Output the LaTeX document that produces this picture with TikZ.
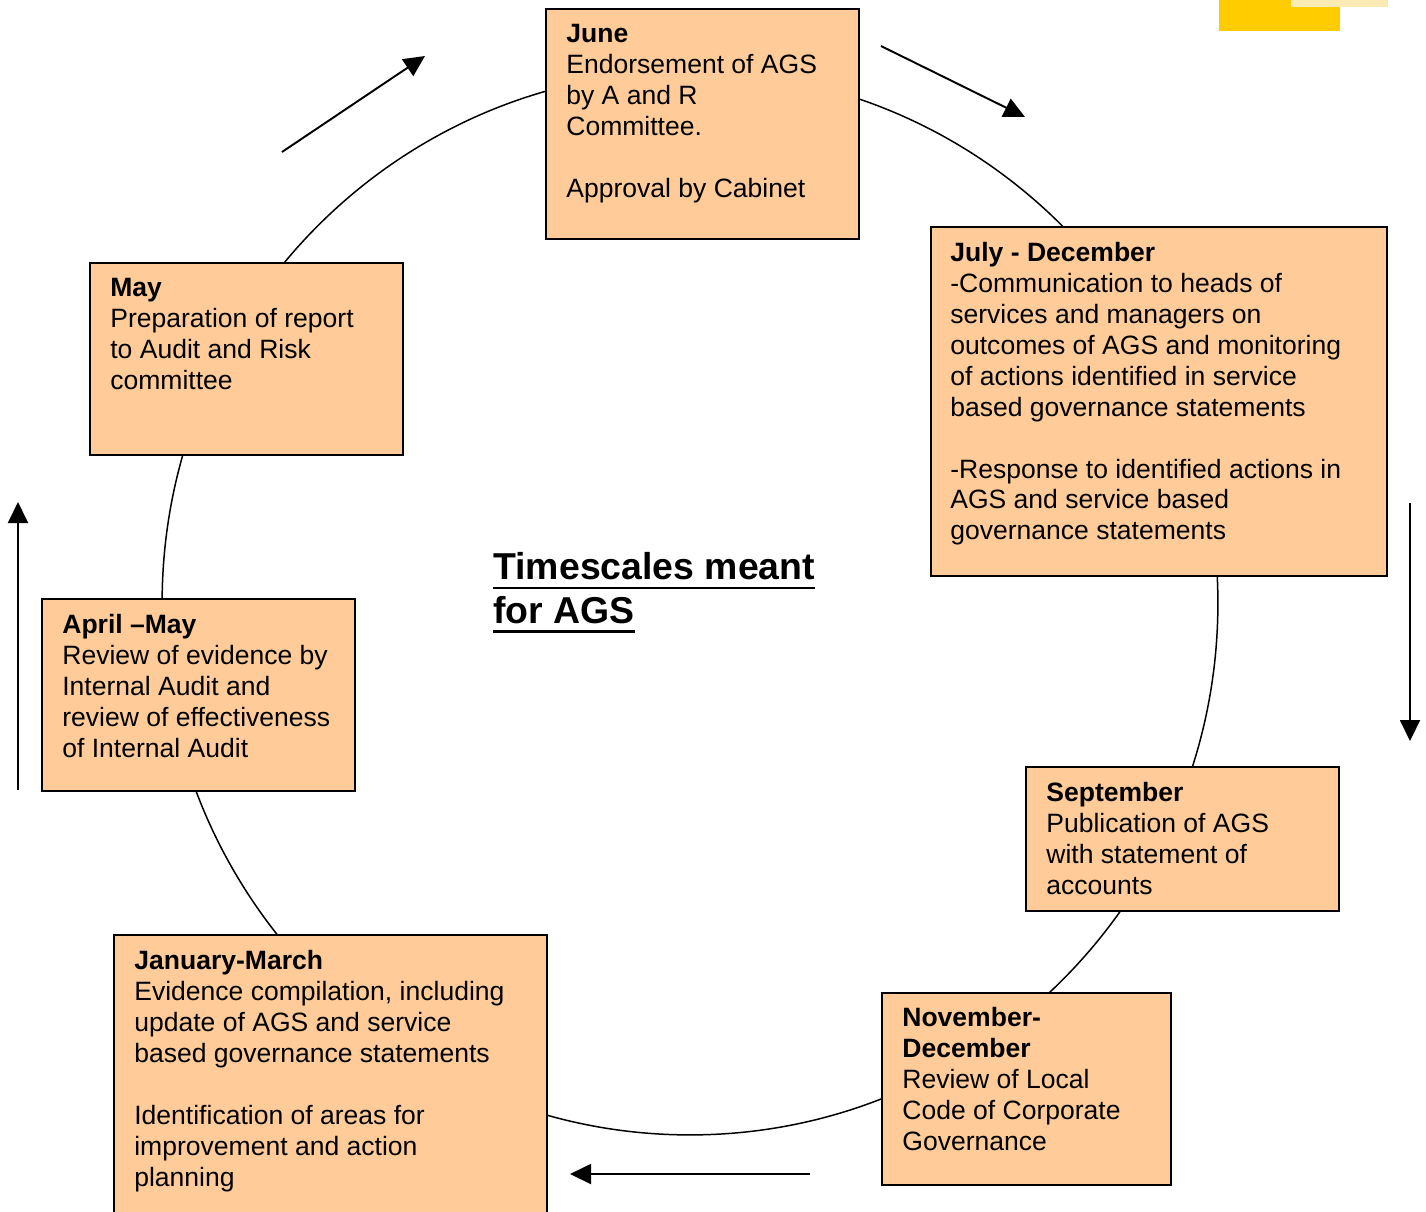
\documentclass[tikz,border=0pt]{standalone}
\usepackage{fontspec}
\setmainfont{Liberation Sans}
\usetikzlibrary{arrows.meta}
\definecolor{peach}{HTML}{FFCC99}
\definecolor{gold}{HTML}{FFCC00}
\definecolor{palegold}{HTML}{FAEBB4}
\newcommand{\thickul}[1]{\setbox0=\hbox{#1}\rlap{\rule[-5.7pt]{\wd0}{1.7pt}}\box0}
\begin{document}
\begin{tikzpicture}[x=0.02cm, y=-0.02cm,
    stage/.style={draw, fill=peach, line width=1.1pt, anchor=north west, inner sep=0pt},
    stagetext/.style={anchor=north west, inner sep=0pt, align=left,
        font=\fontsize{15.1pt}{17.6pt}\selectfont, execute at begin node=\rule{0pt}{11pt}},
    flow/.style={line width=1.1pt, -{Triangle[length=0.42cm, width=0.4cm]}}]
    \clip (0,0) rectangle (1426,1211);
    \fill[gold] (1219,0) rectangle (1340,31);
    \fill[palegold] (1291,0) rectangle (1388,7);
    \draw[line width=0.85pt] (690,603) ellipse [x radius=10.56cm, y radius=10.64cm];

    \node[stage, minimum width=6.26cm, minimum height=4.6cm] (june) at (545,8) {};
    \node[stagetext] (junetext) at ([shift={(21,16)}]june.north west)
        {\textbf{June}\\Endorsement of AGS\\by A and R\\Committee.\\[17.6pt]Approval by Cabinet};

    \node[stage, minimum width=9.12cm, minimum height=6.98cm] (july) at (930,226) {};
    \node[stagetext] (julytext) at ([shift={(20,16)}]july.north west)
        {\textbf{July - December}\\-Communication to heads of\\services and managers on\\outcomes of AGS and monitoring\\of actions identified in service\\based governance statements\\[17.6pt]-Response to identified actions in\\AGS and service based\\governance statements};

    \node[stage, minimum width=6.26cm, minimum height=3.84cm] (may) at (89,262) {};
    \node[stagetext] (maytext) at ([shift={(21,16)}]may.north west)
        {\textbf{May}\\Preparation of report\\to Audit and Risk\\committee};

    \node[stage, minimum width=6.26cm, minimum height=3.84cm] (april) at (41,598) {};
    \node[stagetext] (apriltext) at ([shift={(21,16)}]april.north west)
        {\textbf{April –May}\\Review of evidence by\\Internal Audit and\\review of effectiveness\\of Internal Audit};

    \node[stage, minimum width=6.26cm, minimum height=2.88cm] (september) at (1025,766) {};
    \node[stagetext] (septembertext) at ([shift={(21,16)}]september.north west)
        {\textbf{September}\\Publication of AGS\\with statement of\\accounts};

    \node[stage, minimum width=5.78cm, minimum height=3.84cm] (november) at (881,992) {};
    \node[stagetext] (novembertext) at ([shift={(21,15)}]november.north west)
        {\textbf{November-}\\\textbf{December}\\Review of Local\\Code of Corporate\\Governance};

    \node[stage, minimum width=8.66cm, minimum height=6cm] (january) at (113,934) {};
    \node[stagetext] (januarytext) at ([shift={(21,16)}]january.north west)
        {\textbf{January-March}\\Evidence compilation, including\\update of AGS and service\\based governance statements\\[17.6pt]Identification of areas for\\improvement and action\\planning};

    \node[anchor=north west, inner sep=0pt, align=left,
        font=\fontsize{21.3pt}{25pt}\selectfont\bfseries,
        execute at begin node=\rule{0pt}{16pt}] (title) at (493,552)
        {\thickul{Timescales meant}\\\thickul{for AGS}};

    \coordinate (mays) at (282,152);
    \coordinate (maye) at (425,56);
    \coordinate (junes) at (881,46);
    \coordinate (junee) at (1025,117);
    \coordinate (julys) at (1410,503);
    \coordinate (julye) at (1410,741);
    \coordinate (novs) at (810,1174);
    \coordinate (nove) at (570,1174);
    \coordinate (aprs) at (18,790);
    \coordinate (apre) at (18,502);
    \draw[flow] (mays) -- (maye);
    \draw[flow] (junes) -- (junee);
    \draw[flow] (julys) -- (julye);
    \draw[flow] (novs) -- (nove);
    \draw[flow] (aprs) -- (apre);
\end{tikzpicture}
\end{document}
